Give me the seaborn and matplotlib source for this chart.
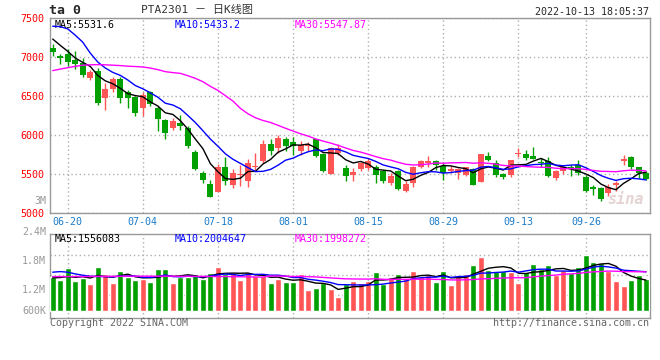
import numpy as np
import pandas as pd
import seaborn as sns
import matplotlib.pyplot as plt

# daily candles, PTA2301, 2022-06-16 .. 2022-10-13
opens = [7120, 7009, 7035, 6966, 6923, 6726, 6820, 6469, 6589, 6718,
         6555, 6486, 6341, 6546, 6349, 6187, 6092, 6152, 6084, 5784,
         5510, 5373, 5270, 5587, 5356, 5484, 5407, 5587, 5664, 5887,
         5827, 5955, 5912, 5801, 5853, 5947, 5758, 5501, 5767, 5578,
         5484, 5570, 5578, 5587, 5536, 5390, 5536, 5287, 5381, 5595,
         5647, 5664, 5604, 5544, 5510, 5493, 5561, 5398, 5733, 5638,
         5501, 5484, 5758, 5750, 5733, 5655, 5664, 5450, 5544, 5595,
         5613, 5467, 5338, 5321, 5253, 5364, 5673, 5715, 5595, 5510]
highs = [7172, 7035, 7103, 7077, 6992, 6829, 6863, 6666, 6743, 6743,
         6572, 6503, 6546, 6563, 6366, 6204, 6212, 6255, 6118, 5810,
         5544, 5424, 5630, 5715, 5570, 5621, 5690, 5767, 5938, 5955,
         5998, 5972, 5972, 5921, 5904, 5955, 5775, 5844, 5887, 5613,
         5578, 5655, 5707, 5613, 5553, 5510, 5553, 5407, 5604, 5681,
         5733, 5681, 5647, 5604, 5578, 5595, 5578, 5758, 5784, 5681,
         5518, 5681, 5827, 5810, 5844, 5707, 5724, 5553, 5621, 5613,
         5681, 5484, 5356, 5338, 5373, 5407, 5741, 5733, 5595, 5536]
lows = [7017, 6906, 6880, 6846, 6743, 6700, 6379, 6315, 6546, 6409,
        6349, 6246, 6246, 6366, 6049, 5955, 6067, 6058, 5827, 5553,
        5390, 5201, 5270, 5356, 5321, 5347, 5339, 5553, 5638, 5741,
        5767, 5793, 5741, 5741, 5801, 5724, 5527, 5501, 5750, 5416,
        5407, 5536, 5553, 5390, 5390, 5364, 5296, 5270, 5330, 5578,
        5587, 5553, 5424, 5510, 5441, 5476, 5356, 5398, 5673, 5467,
        5441, 5458, 5715, 5681, 5698, 5595, 5467, 5424, 5501, 5476,
        5484, 5270, 5227, 5159, 5219, 5287, 5613, 5561, 5450, 5424]
closes = [7060, 6992, 6932, 6906, 6765, 6803, 6409, 6589, 6718, 6469,
          6469, 6281, 6512, 6392, 6204, 6032, 6178, 6109, 5853, 5561,
          5424, 5210, 5595, 5416, 5510, 5501, 5638, 5604, 5887, 5801,
          5964, 5853, 5861, 5870, 5870, 5733, 5544, 5835, 5827, 5476,
          5527, 5638, 5673, 5493, 5416, 5476, 5313, 5373, 5587, 5664,
          5664, 5621, 5510, 5561, 5561, 5587, 5364, 5758, 5681, 5484,
          5467, 5681, 5775, 5707, 5698, 5638, 5476, 5536, 5595, 5570,
          5510, 5287, 5304, 5184, 5339, 5381, 5690, 5595, 5518, 5433]
volumes = [1764, 1624, 2271, 1590, 1712, 1432, 2306, 1939, 1485, 2096,
           1799, 1624, 1659, 1520, 2201, 2201, 1467, 1799, 1799, 1939,
           1659, 1991, 2306, 1956, 1991, 1624, 2044, 1834, 1834, 1485,
           1659, 1537, 1537, 1939, 1100, 1188, 1450, 1153, 751, 1415,
           1590, 1467, 1590, 2044, 1415, 1764, 1939, 1659, 2096, 1799,
           1886, 1537, 2096, 1362, 1834, 1939, 2410, 2847, 2148, 2096,
           2096, 2061, 1485, 2044, 2480, 2201, 2410, 1886, 2148, 1974,
           2306, 2934, 2568, 2515, 2114, 1572, 1310, 1624, 1886, 1677]  # thousands

# moving averages at the left edge need days before the window
ma5_start = [7230, 7150, 7073, 6987]
ma10_start = [7395, 7390, 7360, 7280, 7190, 7050, 6936, 6859, 6803]
ma30_start = [6825, 6845, 6863, 6880, 6895, 6900, 6902, 6900, 6895, 6890,
              6882, 6878, 6872, 6858, 6838, 6812, 6800, 6790, 6760, 6726,
              6683, 6623, 6572, 6503, 6435, 6340, 6272, 6221, 6186]
vma5_start = [1730, 1750, 1800, 1760]
vma10_start = [2030, 2060, 2030, 1940, 1870, 1820, 1800, 1800, 1780]
vma30_start = [1800, 1800, 1800, 1800, 1800, 1805, 1810, 1810, 1815, 1815,
               1820, 1820, 1820, 1820, 1820, 1820, 1820, 1815, 1815, 1810,
               1810, 1805, 1800, 1800, 1795, 1790, 1785, 1780, 1775]

holidays = ["2022-09-12", "2022-10-03", "2022-10-04", "2022-10-05", "2022-10-06", "2022-10-07"]
tick_dates = ["06-20", "07-04", "07-18", "08-01", "08-15", "08-29", "09-13", "09-26"]
price_ticks = [5000, 5500, 6000, 6500, 7000, 7500]

RED = "#ff5555"
GREEN = "#00a000"
GRID = "#b0b0b0"
BORDER = "#999999"


def moving_average(values, n, start):
    ma = pd.Series(values, dtype=float).rolling(n).mean()
    ma.iloc[:n - 1] = start
    return ma


dates = pd.bdate_range("2022-06-16", "2022-10-13")
dates = dates[~dates.isin(pd.to_datetime(holidays))]

df = pd.DataFrame({"open": opens, "high": highs, "low": lows, "close": closes,
                   "volume": np.array(volumes) * 1000})
df["x"] = np.arange(len(df))
df["day"] = dates.strftime("%m-%d")
df["dir"] = np.where(df["close"] >= df["open"], "up", "down")
df["ma5"] = moving_average(closes, 5, ma5_start)
df["ma10"] = moving_average(closes, 10, ma10_start)
df["ma30"] = moving_average(closes, 30, ma30_start)
df["vma5"] = moving_average(df["volume"], 5, np.array(vma5_start) * 1000)
df["vma10"] = moving_average(df["volume"], 10, np.array(vma10_start) * 1000)
df["vma30"] = moving_average(df["volume"], 30, np.array(vma30_start) * 1000)

tick_x = [df.loc[df["day"] == d, "x"].iloc[0] for d in tick_dates]

sns.set_style("white")
plt.rcParams["font.family"] = ["DejaVu Sans Mono", "Noto Sans CJK SC"]
plt.rcParams["font.size"] = 7

fig = plt.figure(figsize=(6.6, 3.6), dpi=100)
W, H = 660, 360
ax = fig.add_axes([50 / W, 147 / H, 599.5 / W, 195 / H])
axv = fig.add_axes([50 / W, 42 / H, 599.5 / W, 84 / H])

# candles
colors = np.where(df["dir"] == "up", RED, GREEN)
ax.vlines(df["x"], df["low"], df["high"], colors=colors, lw=1, zorder=3)
body_low = df[["open", "close"]].min(axis=1)
body_h = (df["close"] - df["open"]).abs().clip(lower=12)
ax.bar(df["x"], body_h, bottom=body_low, width=0.8, color=colors, lw=0, zorder=3)

sns.lineplot(data=df, x="x", y="ma5", color="black", lw=1, ax=ax, zorder=4)
sns.lineplot(data=df, x="x", y="ma10", color="#0000ff", lw=1, ax=ax, zorder=4)
sns.lineplot(data=df, x="x", y="ma30", color="#ff00ff", lw=1, ax=ax, zorder=4)

ax.set_xlim(-0.36, 79.46)
ax.set_ylim(5000, 7500)
ax.set_yticks(price_ticks)
ax.set_xticks(tick_x)
ax.set_xticklabels(tick_dates)
ax.tick_params(axis="y", colors="#ff0000", length=0, pad=4, labelsize=7.2)
ax.tick_params(axis="x", colors="#1c7cc8", length=0, pad=3, labelsize=7.2)
ax.set_xlabel(None)
ax.set_ylabel(None)
ax.grid(True, ls=(0, (1, 2)), color=GRID, lw=1)
for s in ax.spines.values():
    s.set_color(BORDER)
    s.set_linewidth(1)

ax.text(-4 / 599.5, 12 / 195, "3M", transform=ax.transAxes, ha="right", va="center",
        color="#999999", fontsize=7.2)
ax.text(5 / 599.5, 1 - 6.5 / 195, "MA5:5531.6", transform=ax.transAxes, va="center",
        color="black", fontsize=7.2)
ax.text(125 / 599.5, 1 - 6.5 / 195, "MA10:5433.2", transform=ax.transAxes, va="center",
        color="#0000ff", fontsize=7.2)
ax.text(245 / 599.5, 1 - 6.5 / 195, "MA30:5547.87", transform=ax.transAxes, va="center",
        color="#ff00ff", fontsize=7.2)
ax.text(0.96, 0.07, "sina", transform=ax.transAxes, ha="center", va="center",
        color="#e4d4d4", fontsize=11, fontweight="bold", style="italic", zorder=1)

# volume
sns.barplot(data=df, x="x", y="volume", hue="dir", palette={"up": RED, "down": GREEN},
            native_scale=True, width=0.8, saturation=1, legend=False, ax=axv, zorder=3)
sns.lineplot(data=df, x="x", y="vma5", color="black", lw=1, ax=axv, zorder=4)
sns.lineplot(data=df, x="x", y="vma10", color="#0000ff", lw=1, ax=axv, zorder=4)
sns.lineplot(data=df, x="x", y="vma30", color="#ff00ff", lw=1, ax=axv, zorder=4)

axv.set_xlim(-0.36, 79.46)
axv.set_ylim(-0.37e6, 4.03e6)
axv.set_yticks([0.84e6, 1.89e6, 2.93e6])
axv.set_xticks(tick_x)
axv.tick_params(labelleft=False, labelbottom=False, length=0)
axv.set_xlabel(None)
axv.set_ylabel(None)
axv.grid(True, ls=(0, (1, 2)), color=GRID, lw=1)
for s in axv.spines.values():
    s.set_color(BORDER)
    s.set_linewidth(1)

axv.text(5 / 599.5, 1 - 4.5 / 84, "MA5:1556083", transform=axv.transAxes, va="center",
         color="black", fontsize=7.2)
axv.text(125 / 599.5, 1 - 4.5 / 84, "MA10:2004647", transform=axv.transAxes, va="center",
         color="#0000ff", fontsize=7.2)
axv.text(245 / 599.5, 1 - 4.5 / 84, "MA30:1998272", transform=axv.transAxes, va="center",
         color="#ff00ff", fontsize=7.2)

for label, y in [("2.4M", 231.5), ("1.8M", 261), ("1.2M", 290), ("600K", 310.5)]:
    fig.text(46 / W, 1 - y / H, label, ha="right", va="center", color="#999999", fontsize=7.2)

# header / footer
fig.text(49 / W, 1 - 11 / H, "ta 0", ha="left", va="center", fontsize=9.5, fontweight="bold")
fig.text(141 / W, 1 - 10 / H, "PTA2301 － 日K线图", ha="left", va="center", fontsize=8,
         color="#333333")
fig.text(649 / W, 1 - 12 / H, "2022-10-13 18:05:37", ha="right", va="center", fontsize=7.2)
fig.text(50 / W, 1 - 323 / H, "Copyright 2022 SINA.COM", ha="left", va="center",
         fontsize=7.2, color="#666666")
fig.text(649 / W, 1 - 323 / H, "http://finance.sina.com.cn", ha="right", va="center",
         fontsize=7.2, color="#666666")

fig.savefig("out.png", dpi=100)
